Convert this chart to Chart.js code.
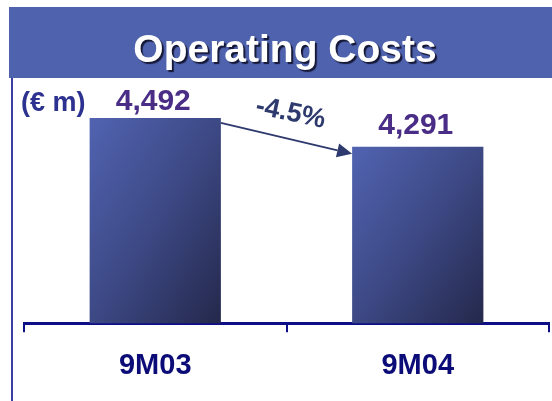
<!DOCTYPE html>
<html>
<head>
<meta charset="utf-8">
<script src="https://cdn.jsdelivr.net/npm/chart.js@4/dist/chart.umd.min.js"></script>
<style>
  html, body { margin: 0; padding: 0; background: #ffffff; }
  #wrap { width: 552px; height: 401px; }
</style>
</head>
<body>
<div id="wrap"><canvas id="c" width="552" height="401"></canvas></div>
<script>
// ---- data ----
const titleText = 'Operating Costs';
const unitLabel = '(€ m)';
const categories = ['9M03', '9M04'];
const values = [4492, 4291];
const valueLabels = ['4,492', '4,291'];
const changeLabel = '-4.5%';

const FONT = '"Liberation Sans", Arial, sans-serif';

function barGradient(ctx) {
  const chart = ctx.chart;
  const area = chart.chartArea;
  if (!area) return '#4050a0';
  const xs = chart.scales.x, ys = chart.scales.y;
  const cx = xs.getPixelForValue(ctx.dataIndex);
  const hw = (area.right - area.left) / categories.length * 0.25;
  const top = ys.getPixelForValue(values[ctx.dataIndex]);
  const bottom = area.bottom;
  const w = 2 * hw, h = bottom - top;
  const L = 2 * w * h / (h * h + w * w);
  const x0 = cx - hw, y0 = top;
  const g = chart.ctx.createLinearGradient(x0, y0, x0 + h * L, y0 + w * L);
  g.addColorStop(0, '#5163B1');
  g.addColorStop(0.5, '#3D4985');
  g.addColorStop(1, '#24284B');
  return g;
}

const decor = {
  id: 'decor',
  beforeDraw(chart) {
    const c = chart.ctx;
    c.save();
    // banner
    c.fillStyle = '#4F62AE';
    c.fillRect(9, 7, 543, 71);
    // left vertical rule
    c.fillStyle = '#3A3EA0';
    c.fillRect(11, 78, 2, 323);
    // title
    c.font = 'bold 39px ' + FONT;
    c.textAlign = 'center';
    c.textBaseline = 'alphabetic';
    c.shadowColor = 'rgba(18,20,48,0.95)';
    c.shadowOffsetX = 2;
    c.shadowOffsetY = 2;
    c.shadowBlur = 1;
    c.fillStyle = '#ffffff';
    c.fillText(titleText, 285, 62);
    c.restore();
  },
  afterDatasetsDraw(chart) {
    const c = chart.ctx;
    const meta = chart.getDatasetMeta(0);
    const b1 = meta.data[0], b2 = meta.data[1];
    c.save();
    // unit label
    c.font = 'bold 27px ' + FONT;
    c.fillStyle = '#2D318F';
    c.textAlign = 'left';
    c.textBaseline = 'alphabetic';
    c.fillText(unitLabel, 21, 111);
    // value labels
    const offs = [8, 13];
    c.font = 'bold 30px ' + FONT;
    c.fillStyle = '#4A2D86';
    c.textAlign = 'center';
    meta.data.forEach((bar, i) => {
      c.fillText(valueLabels[i], bar.x - 2, bar.y - offs[i]);
    });
    // arrow
    const sx = b1.x + b1.width / 2, sy = b1.y + 5;
    const ex = b2.x - b2.width / 2, ey = b2.y + 7;
    const ang = Math.atan2(ey - sy, ex - sx);
    const head = 15, hwid = 7;
    c.strokeStyle = '#2E3A6E';
    c.fillStyle = '#2E3A6E';
    c.lineWidth = 2;
    c.beginPath();
    c.moveTo(sx, sy);
    c.lineTo(ex - Math.cos(ang) * head, ey - Math.sin(ang) * head);
    c.stroke();
    c.beginPath();
    c.moveTo(ex, ey);
    c.lineTo(ex - Math.cos(ang) * head - Math.sin(ang) * hwid, ey - Math.sin(ang) * head + Math.cos(ang) * hwid);
    c.lineTo(ex - Math.cos(ang) * head + Math.sin(ang) * hwid, ey - Math.sin(ang) * head - Math.cos(ang) * hwid);
    c.closePath();
    c.fill();
    // change label
    c.translate((sx + ex) / 2 + 4, (sy + ey) / 2 - 25);
    c.rotate(12 * Math.PI / 180);
    c.font = 'bold 27px ' + FONT;
    c.fillStyle = '#2E3A6E';
    c.textAlign = 'center';
    c.textBaseline = 'middle';
    c.fillText(changeLabel, 0, 0);
    c.restore();
  }
};

new Chart(document.getElementById('c'), {
  type: 'bar',
  data: {
    labels: categories,
    datasets: [{
      data: values,
      backgroundColor: barGradient,
      borderWidth: 0,
      barPercentage: 0.5,
      categoryPercentage: 1.0
    }]
  },
  options: {
    responsive: false,
    animation: false,
    devicePixelRatio: 1,
    layout: { padding: { left: 24, right: 3, top: 90, bottom: 2 } },
    plugins: { legend: { display: false }, tooltip: { enabled: false }, title: { display: false } },
    scales: {
      x: {
        offset: true,
        grid: { display: true, drawOnChartArea: false, drawTicks: true, tickLength: 9, color: '#0E0E86', lineWidth: 2, offset: true },
        border: { display: true, color: '#0E0E86', width: 3 },
        ticks: { color: '#0C0C78', font: { family: FONT, size: 29, weight: 'bold' }, padding: 16, maxRotation: 0 }
      },
      y: { display: false, min: 3064, max: 4686 }
    }
  },
  plugins: [decor]
});
</script>
</body>
</html>
